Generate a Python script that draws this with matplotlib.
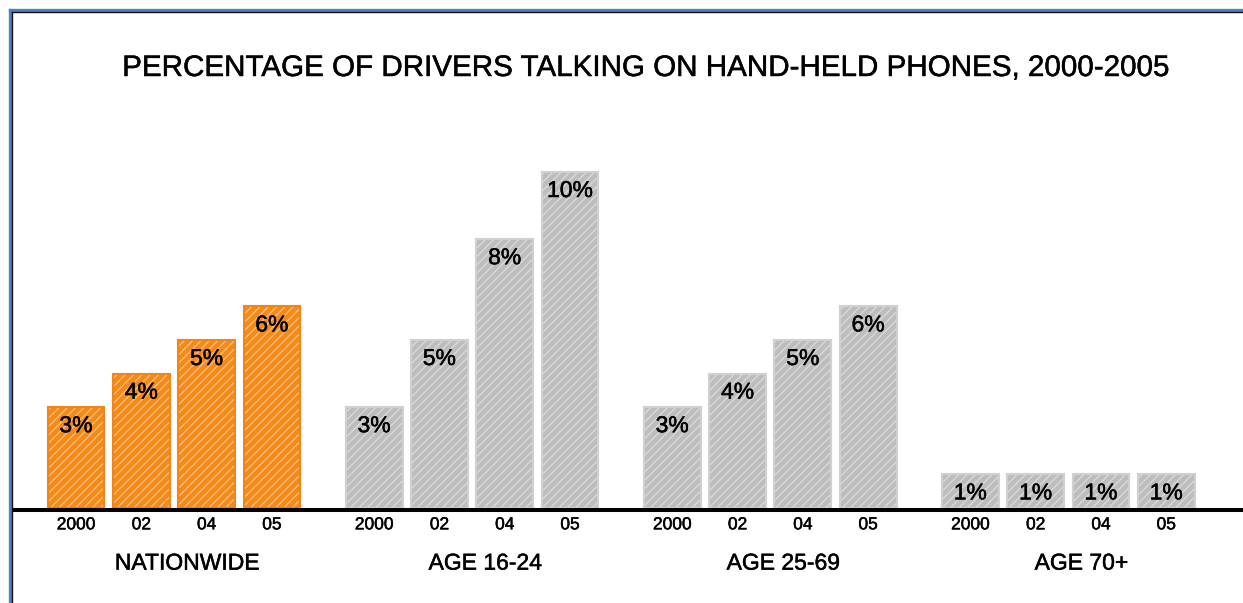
import matplotlib
matplotlib.use('Agg')
import matplotlib.pyplot as plt
import matplotlib.patheffects as pe
from matplotlib.lines import Line2D

plt.rcParams['font.family'] = ['Liberation Sans', 'DejaVu Sans']
plt.rcParams['hatch.linewidth'] = 0.9

groups = ['NATIONWIDE', 'AGE 16-24', 'AGE 25-69', 'AGE 70+']
years = ['2000', '02', '04', '05']
nationwide = [3, 4, 5, 6]
age_16_24 = [3, 5, 8, 10]
age_25_69 = [3, 4, 5, 6]
age_70_plus = [1, 1, 1, 1]
series = [nationwide, age_16_24, age_25_69, age_70_plus]

group_step = 4.565
bar_w = 0.87

# slightly heavier strokes for the text
heavy = [pe.withStroke(linewidth=0.35, foreground='black')]

fig = plt.figure(figsize=(12.43, 6.03), dpi=100)
ax = fig.add_axes([0, 0, 1, 1])
ax.set_xlim(-1.164, 17.87)
ax.set_ylim(-2.827, 15.12)
ax.axis('off')

for i, vals in enumerate(series):
    xs = [i * group_step + j for j in range(len(vals))]
    if i == 0:
        face, hatch_c, edge = '#F58A17', '#FBC186', '#F28519'
    else:
        face, hatch_c, edge = '#BDBDBD', '#DCDCDC', '#D0D0D0'
    ax.bar(xs, vals, width=bar_w, color=face, edgecolor=hatch_c,
           hatch='////', linewidth=0, zorder=2)
    ax.bar(xs, vals, width=bar_w, fill=False, edgecolor=edge,
           linewidth=1.5, zorder=3)
    for x, v, yr in zip(xs, vals, years):
        ax.text(x, v - 0.55, f'{v}%', ha='center', va='center',
                fontsize=16.5, color='black', zorder=4, path_effects=heavy)
        ax.text(x, -0.5, yr, ha='center', va='center', fontsize=12.5,
                color='black', path_effects=heavy)
    ax.text(i * group_step + 1.5 + 0.2, -1.64, groups[i], ha='center',
            va='center', fontsize=16.5, color='black', path_effects=heavy)

# baseline across the plot
ax.axhline(-0.06, xmin=12 / 1243, xmax=1, color='black', linewidth=2.9,
           zorder=5)

fig.text(0.519, 1 - 68 / 603,
         'PERCENTAGE OF DRIVERS TALKING ON HAND-HELD PHONES, 2000-2005',
         ha='center', va='center', fontsize=21.3, color='black',
         path_effects=heavy)

# blue frame with dark inner edge, top and left
W, H = 1243, 603
fig.add_artist(Line2D([9.5 / W, 1], [1 - 9.5 / H, 1 - 9.5 / H],
                      transform=fig.transFigure, color='#4F81BD', lw=2.4))
fig.add_artist(Line2D([9.5 / W, 9.5 / W], [0, 1 - 9.5 / H],
                      transform=fig.transFigure, color='#4F81BD', lw=2.4))
fig.add_artist(Line2D([12 / W, 1], [1 - 12 / H, 1 - 12 / H],
                      transform=fig.transFigure, color='#111111', lw=1.0))
fig.add_artist(Line2D([12 / W, 12 / W], [0, 1 - 12 / H],
                      transform=fig.transFigure, color='#111111', lw=1.0))

fig.savefig('out.png', dpi=100, facecolor='white')
